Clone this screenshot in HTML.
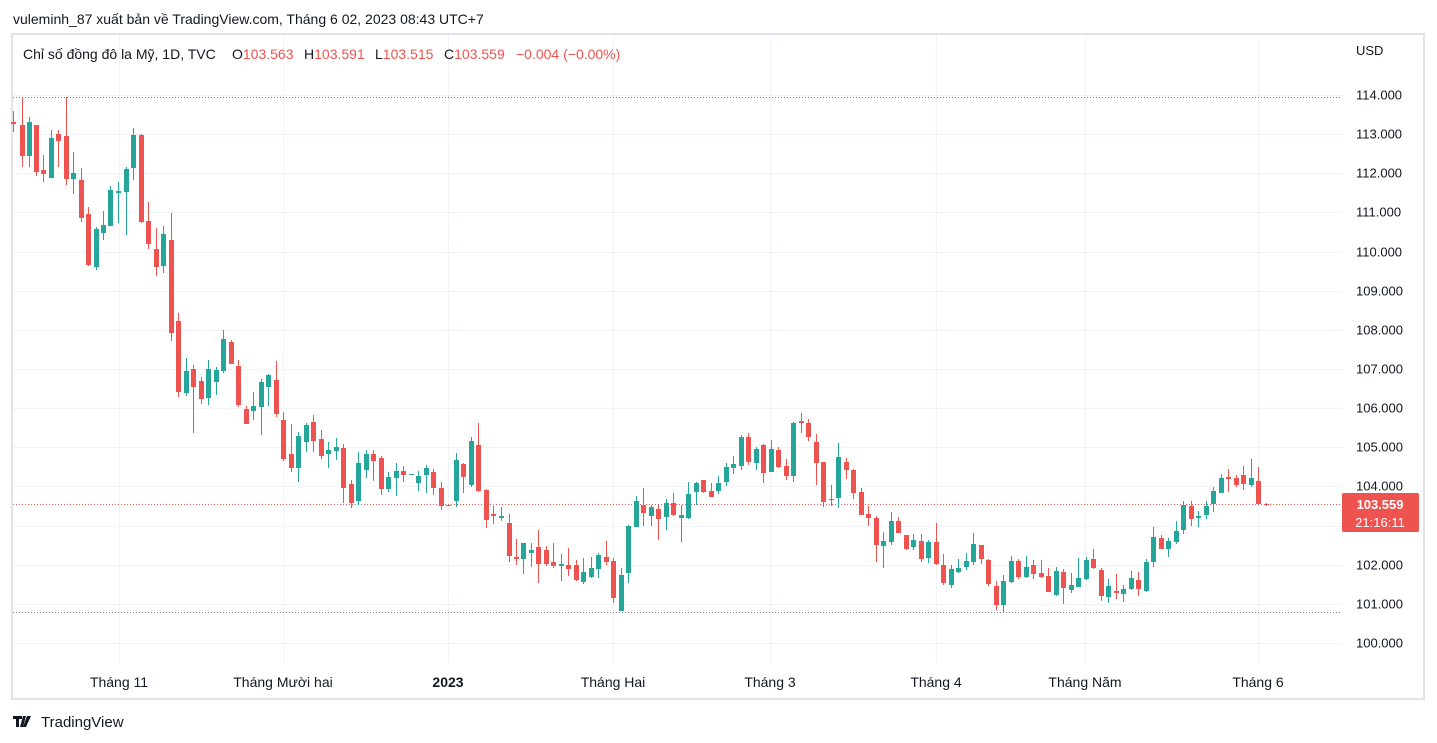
<!DOCTYPE html>
<html><head><meta charset="utf-8">
<style>
body{margin:0;background:#fff;width:1437px;height:743px;overflow:hidden;font-family:"Liberation Sans",sans-serif;}
svg{position:absolute;left:0;top:0}
text{white-space:pre}
</style></head><body>
<svg id="s" width="1437" height="743" xmlns="http://www.w3.org/2000/svg">
<rect x="12" y="34" width="1412" height="665" fill="#fff" stroke="#e0e3eb" stroke-width="2"/>
<g id="grid" stroke="#f0f3fa" stroke-width="1"></g>
<line x1="13" y1="97.5" x2="1342" y2="97.5" stroke="#787b86" stroke-dasharray="1,2"/>
<line x1="13" y1="612.5" x2="1342" y2="612.5" stroke="#787b86" stroke-dasharray="1,2"/>
<line x1="13" y1="504.5" x2="1342" y2="504.5" stroke="#ef5350" stroke-dasharray="1,2"/>
<g id="c"></g>
<text x="13" y="24" font-size="14" fill="#131722">vuleminh_87 xuất bản về TradingView.com, Tháng 6 02, 2023 08:43 UTC+7</text>
<text x="23" y="59" font-size="14" fill="#131722" xml:space="preserve">Chỉ số đồng đô la Mỹ, 1D, TVC<tspan x="232">O</tspan><tspan fill="#ef5350">103.563</tspan><tspan x="304">H</tspan><tspan fill="#ef5350">103.591</tspan><tspan x="375">L</tspan><tspan fill="#ef5350">103.515</tspan><tspan x="444">C</tspan><tspan fill="#ef5350">103.559</tspan><tspan x="516" fill="#ef5350">−0.004 (−0.00%)</tspan></text>
<text x="1356" y="55" font-size="13" fill="#131722">USD</text>
<g id="py" font-size="13" fill="#131722"></g>
<g font-size="14" fill="#131722" text-anchor="middle">
<text x="119" y="687">Tháng 11</text>
<text x="283" y="687">Tháng Mười hai</text>
<text x="448" y="687" font-weight="bold">2023</text>
<text x="613" y="687">Tháng Hai</text>
<text x="770" y="687">Tháng 3</text>
<text x="936" y="687">Tháng 4</text>
<text x="1085" y="687">Tháng Năm</text>
<text x="1258" y="687">Tháng 6</text>
</g>
<rect x="1342" y="493" width="77" height="39" rx="2" fill="#ef5350"/>
<text x="1380" y="509" font-size="13" fill="#fff" text-anchor="middle" font-weight="bold">103.559</text>
<text x="1380" y="527" font-size="13" fill="#fff" text-anchor="middle">21:16:11</text>
<g transform="translate(13,714)"><path d="M0 2h9v3h-3v8h-3v-8h-3z M10 2h3l-3 11h-3z M14 2h4l-5 11h-3z" fill="#131722"/></g>
<text x="41" y="727" font-size="15" fill="#131722">TradingView</text>
</svg>
<script>
var ns="http://www.w3.org/2000/svg";
function el(p,t,a){var e=document.createElementNS(ns,t);for(var k in a)e.setAttribute(k,a[k]);p.appendChild(e);return e;}
var g=document.getElementById('grid'),py=document.getElementById('py');
for(var k=0;k<=14;k++){var y=Math.round(95+k*39.14)+0.5;el(g,'line',{x1:13,y1:y,x2:1342,y2:y});
var t=el(py,'text',{x:1356,y:y+4});t.textContent=(114-k)+'.000';}
[119,283,448,613,770,936,1085,1258].forEach(function(x){el(g,'line',{x1:x+.5,y1:35,x2:x+.5,y2:664});});
var R='#ef5350',G='#26a69a';
var d=[
[13,122,124,111,132,R],[21.5,125,156,97,167,R],[28.5,122,156,117,167,G],[36,125,172,125,176,R],[43,170,174,155,182,R],
[51,138,178,130,178,G],[58,134,141,130,167,R],[66,136,179,97,185,R],[73,173,179,152,194,G],[81,180,218,168,222,R],
[88,214,265,207,266,R],[96,229,267,227,270,G],[103,225,233,211,240,G],[110,190,226,186,226,G],[118,191,193,182,223,G],
[126,169,192,167,235,G],[133,135,168,128,180,G],[141,135,222,134,223,R],[148,221,244,202,249,R],[156,249,267,228,276,R],
[163,234,266,226,273,G],[171,240,333,213,341,R],[178,321,392,313,397,R],[186,371,393,358,396,G],[193,369,387,365,433,R],
[201,381,399,377,404,R],[208,369,398,360,405,G],[216,370,382,367,395,G],[223,339,371,330,373,G],[231,342,364,340,364,R],
[238,366,405,360,407,R],[246,409,424,406,424,R],[253,406,411,392,420,G],[261,382,407,379,435,G],[268,375,387,374,406,G],
[276,380,414,361,417,R],[283,420,459,412,461,R],[291,454,468,424,472,R],[298,436,468,432,482,G],[306,425,442,423,452,G],
[313,422,441,415,452,R],[321,439,456,430,459,R],[328,450,454,442,468,G],[336,447,451,438,460,G],[343,448,488,444,503,R],
[351,484,503,480,508,R],[358,463,501,452,505,G],[366,454,470,450,478,G],[373,454,461,450,481,R],[381,458,489,456,495,R],
[388,477,489,472,492,G],[396,471,478,463,496,G],[403,471,475,466,482,R],[411,474,475,474,475,G],[418,476,483,471,491,G],
[426,468,475,465,493,G],[433,472,488,469,495,R],[441,488,506,482,510,R],[448,505,506,505,506,G],[456,460,501,453,507,G],
[463,464,477,463,493,R],[471,441,485,437,487,G],[478,445,491,423,492,R],[486,490,520,489,528,R],[493,514,516,506,524,R],
[501,516,518,507,521,G],[509,523,556,514,562,R],[516,557,559,539,565,R],[523,543,559,543,574,G],[531,550,553,543,567,G],
[538,547,564,530,583,R],[546,550,564,546,566,R],[553,562,566,543,568,R],[561,564,566,554,581,G],[568,565,569,548,576,R],
[576,565,580,560,581,R],[583,572,582,558,584,G],[591,568,577,557,578,G],[598,555,569,553,578,G],[606,557,562,541,565,R],
[613,561,598,558,603,R],[621,575,611,568,611,G],[628,526,573,525,583,G],[636,501,527,496,527,G],[643,505,513,488,526,R],
[651,507,516,505,526,G],[658,509,519,505,540,R],[666,503,517,499,530,G],[673,503,515,493,516,R],[681,515,518,505,542,G],
[688,494,518,482,519,G],[696,483,492,482,505,G],[703,480,492,480,493,R],[711,491,497,483,497,R],[718,483,491,476,494,G],
[726,467,482,463,486,G],[733,464,468,456,474,G],[741,437,466,435,470,G],[748,437,462,433,465,R],[756,449,463,447,470,G],
[763,445,473,444,483,R],[771,449,472,440,472,G],[778,450,467,447,468,R],[786,466,476,459,480,R],[793,423,476,422,482,G],
[801,421,423,413,433,R],[808,423,437,419,441,R],[816,442,463,434,485,R],[823,462,502,462,507,R],[831,499,500,485,506,G],
[838,457,498,443,508,G],[846,462,470,458,479,R],[853,470,493,469,499,R],[861,492,515,488,515,R],[868,514,518,506,526,R],
[876,518,545,516,562,R],[883,541,546,532,568,G],[891,521,542,512,545,G],[898,521,533,517,533,R],[906,535,549,535,550,R],
[913,540,547,534,550,G],[921,541,559,534,562,R],[928,542,558,540,563,G],[936,542,564,523,565,R],[943,565,583,554,585,R],
[951,569,585,565,588,G],[958,568,572,559,573,G],[966,561,567,553,570,G],[973,544,562,533,565,G],[981,545,559,545,564,R],
[988,560,584,559,586,R],[996,586,605,581,610,R],[1003,581,605,575,613,G],[1011,561,582,556,583,G],[1018,561,577,559,579,R],
[1026,567,577,556,578,G],[1033,565,574,560,579,R],[1041,573,577,560,578,R],[1048,576,592,568,592,R],[1056,571,595,567,596,G],
[1063,572,588,569,604,R],[1071,585,590,573,593,G],[1078,578,587,558,587,G],[1086,560,579,557,580,G],[1093,559,568,549,569,R],
[1101,570,596,568,601,R],[1108,586,597,579,603,G],[1116,591,593,574,599,R],[1123,589,594,585,602,G],[1131,578,589,571,590,G],
[1138,580,589,572,596,R],[1146,562,591,559,592,G],[1153,537,562,527,567,G],[1161,538,549,535,549,R],[1168,541,549,538,557,G],
[1176,531,542,521,544,G],[1183,505,530,501,534,G],[1191,506,519,501,526,R],[1198,516,518,511,527,G],[1206,506,515,501,519,G],
[1213,491,504,487,512,G],[1221,478,493,474,493,G],[1228,477,479,469,492,R],[1236,478,485,475,487,R],[1243,475,484,466,490,R],
[1251,478,485,459,487,G],[1258,481,504,467,505,R],[1266,504,505,503,506,R]];
var c=document.getElementById('c');
d.forEach(function(a){var x=Math.round(a[0]);
el(c,'rect',{x:x,y:a[3],width:1,height:Math.max(1,a[4]-a[3]),fill:a[5]});
el(c,'rect',{x:x-2,y:a[1],width:5,height:Math.max(1,a[2]-a[1]),fill:a[5]});});
</script>
</body></html>
